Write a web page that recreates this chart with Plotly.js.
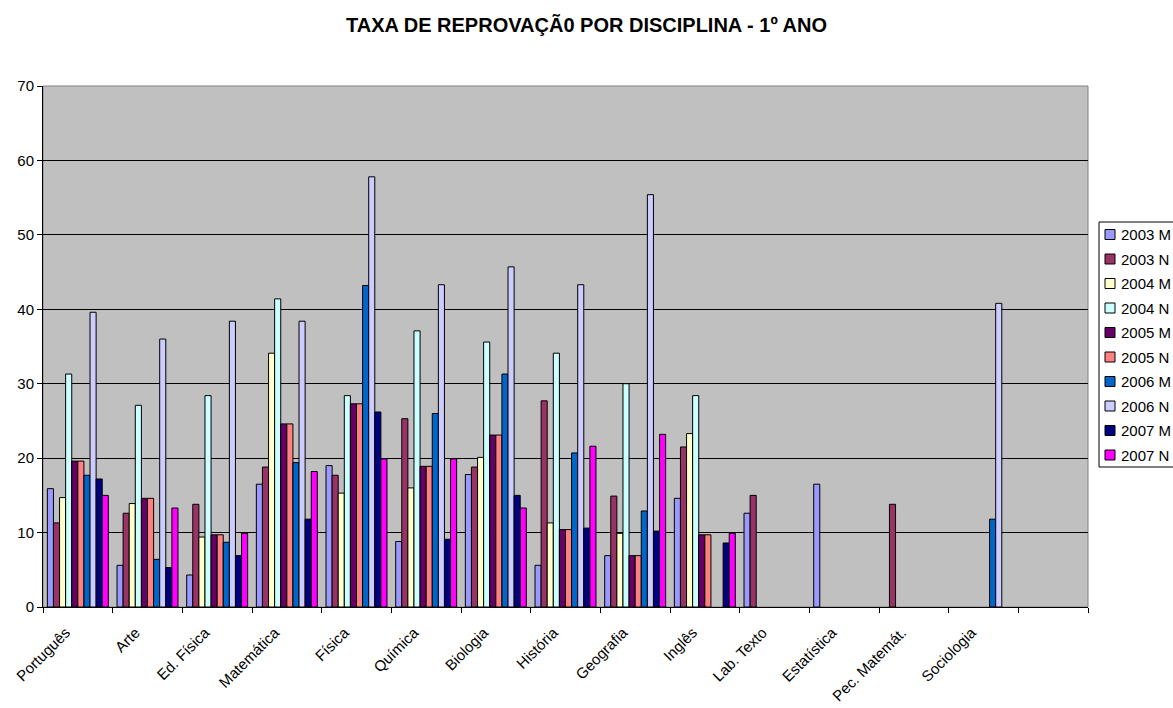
<!DOCTYPE html>
<html>
<head>
<meta charset="utf-8">
<script src="https://cdn.plot.ly/plotly-3.0.1.min.js"></script>
<style>
  html, body { margin: 0; padding: 0; background: #ffffff; overflow: hidden; }
  #chart { width: 1173px; height: 708px; }
</style>
</head>
<body>
<div id="chart"></div>
<script>
// Subjects (last slot left empty on the axis)
const disciplinas = ['Português', 'Arte', 'Ed. Física', 'Matemática', 'Física', 'Química',
  'Biologia', 'História', 'Geografia', 'Inglês', 'Lab. Texto', 'Estatística',
  'Pec. Matemát.', 'Sociologia', ' '];

// Failure rate (%) per subject, one array per year/shift
const s2003M = [15.9, 5.6, 4.3, 16.5, 19.0, 8.8, 17.8, 5.6, 6.9, 14.6, 12.6, 16.5, null, null, null];
const s2003N = [11.3, 12.6, 13.8, 18.8, 17.7, 25.3, 18.8, 27.7, 14.9, 21.5, 15.0, null, 13.8, null, null];
const s2004M = [14.7, 13.9, 9.4, 34.1, 15.3, 16.0, 20.1, 11.3, 9.9, 23.3, null, null, null, null, null];
const s2004N = [31.3, 27.1, 28.4, 41.4, 28.4, 37.1, 35.6, 34.1, 30.0, 28.4, null, null, null, null, null];
const s2005M = [19.6, 14.6, 9.7, 24.6, 27.3, 18.9, 23.1, 10.4, 6.9, 9.7, null, null, null, null, null];
const s2005N = [19.6, 14.6, 9.7, 24.6, 27.3, 18.9, 23.1, 10.4, 6.9, 9.7, null, null, null, null, null];
const s2006M = [17.7, 6.4, 8.7, 19.4, 43.2, 26.0, 31.3, 20.7, 12.9, null, null, null, null, 11.8, null];
const s2006N = [39.6, 36.0, 38.4, 38.4, 57.8, 43.3, 45.7, 43.3, 55.4, null, null, null, null, 40.8, null];
const s2007M = [17.2, 5.3, 6.9, 11.8, 26.2, 9.1, 15.0, 10.6, 10.2, 8.6, null, null, null, null, null];
const s2007N = [15.0, 13.3, 9.9, 18.2, 19.9, 19.9, 13.3, 21.6, 23.2, 9.9, null, null, null, null, null];

const seriesNames = ['2003 M', '2003 N', '2004 M', '2004 N', '2005 M',
  '2005 N', '2006 M', '2006 N', '2007 M', '2007 N'];
const seriesValues = [s2003M, s2003N, s2004M, s2004N, s2005M, s2005N, s2006M, s2006N, s2007M, s2007N];
const seriesColors = ['#9999FF', '#993366', '#FFFFCC', '#CCFFFF', '#660066',
  '#FF8080', '#0066CC', '#CCCCFF', '#000080', '#FF00FF'];

const FONT = 'Arial, "Liberation Sans", sans-serif';
const W = 1173, H = 708;
const M = { l: 43, r: 85, t: 86, b: 101 };

// pixel -> paper conversion for the legend key placed right of the plot
const px2x = px => (px - M.l) / (W - M.l - M.r);
const px2y = py => (H - M.b - py) / (H - M.t - M.b);

const traces = seriesNames.map((name, i) => ({
  type: 'bar',
  name: name,
  x: disciplinas,
  y: seriesValues[i],
  marker: { color: seriesColors[i], line: { color: '#000000', width: 1 } },
  hoverinfo: 'x+y+name'
}));

// Legend key: bordered box, one swatch + label per series
const LEG = { left: 1099, top: 222, bottom: 467, row0: 234.5, step: 24.5, swL: 1105, swR: 1115, textX: 1119 };
const shapes = [{
  type: 'rect', xref: 'paper', yref: 'paper',
  x0: 0, x1: 1, y0: 0, y1: 1,
  line: { color: '#808080', width: 1 },
  layer: 'below'
}, {
  type: 'rect', xref: 'paper', yref: 'paper',
  x0: px2x(LEG.left), x1: px2x(W + 10), y0: px2y(LEG.bottom), y1: px2y(LEG.top),
  fillcolor: '#ffffff', line: { color: '#000000', width: 1 }, layer: 'above'
}];
const annotations = [];
seriesNames.forEach((name, i) => {
  const cy = LEG.row0 + i * LEG.step;
  shapes.push({
    type: 'rect', xref: 'paper', yref: 'paper',
    x0: px2x(LEG.swL), x1: px2x(LEG.swR), y0: px2y(cy + 5), y1: px2y(cy - 5),
    fillcolor: seriesColors[i], line: { color: '#000000', width: 1 }, layer: 'above'
  });
  annotations.push({
    xref: 'paper', yref: 'paper', x: px2x(LEG.textX), y: px2y(cy),
    xanchor: 'left', yanchor: 'middle', showarrow: false,
    text: name, font: { family: FONT, size: 15, color: '#000000' }
  });
});

const layout = {
  width: W,
  height: H,
  margin: { l: M.l, r: M.r, t: M.t, b: M.b, pad: 0, autoexpand: false },
  paper_bgcolor: '#ffffff',
  plot_bgcolor: '#C0C0C0',
  font: { family: FONT, size: 15, color: '#000000' },
  title: {
    text: '<b>TAXA DE REPROVAÇÃ0 POR DISCIPLINA - 1º ANO</b>',
    font: { family: FONT, size: 20, color: '#000000' },
    x: 0.5, xref: 'container', xanchor: 'center',
    y: 1 - 25 / H, yref: 'container', yanchor: 'middle'
  },
  barmode: 'group',
  bargap: 0.125,
  bargroupgap: 0,
  showlegend: false,
  xaxis: {
    type: 'category',
    tickangle: -45,
    tickson: 'boundaries',
    ticks: 'outside', ticklen: 5, tickcolor: '#000000',
    ticklabelstandoff: 10,
    ticklabelshift: -12,
    showline: true, linecolor: '#000000', linewidth: 1,
    showgrid: false,
    tickfont: { family: FONT, size: 15, color: '#000000' },
    fixedrange: true
  },
  yaxis: {
    range: [0, 70],
    dtick: 10,
    ticks: 'outside', ticklen: 5, tickcolor: '#000000',
    showline: true, linecolor: '#000000', linewidth: 1,
    gridcolor: '#000000', gridwidth: 1,
    zeroline: false,
    tickfont: { family: FONT, size: 15, color: '#000000' },
    fixedrange: true
  },
  shapes: shapes,
  annotations: annotations
};

Plotly.newPlot('chart', traces, layout, { displayModeBar: false, staticPlot: true });
</script>
</body>
</html>
